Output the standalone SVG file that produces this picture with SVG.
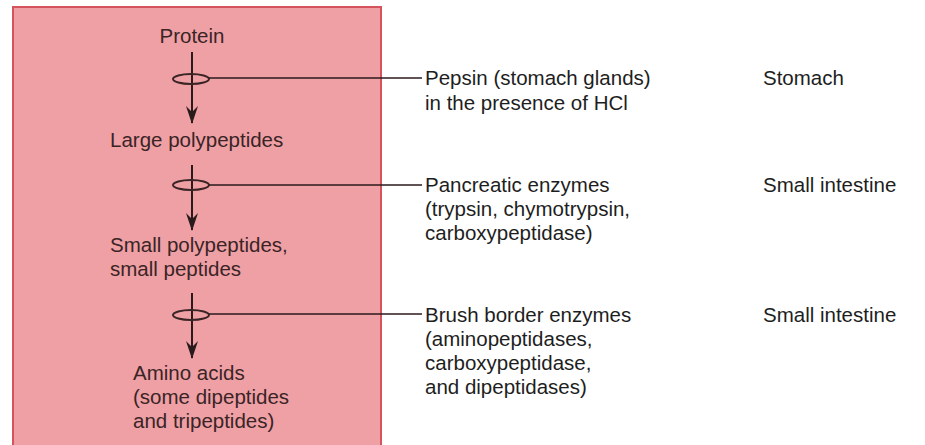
<svg xmlns="http://www.w3.org/2000/svg" width="925" height="445" viewBox="0 0 925 445">
<defs>
<marker id="ah" viewBox="0 0 18 12" refX="17" refY="6" markerWidth="18" markerHeight="12" markerUnits="userSpaceOnUse" orient="auto">
<path d="M0,0 L18,6 L0,12 L6,6 Z" fill="#2a1a1c"/>
</marker>
</defs>
<style>
text{font-family:"Liberation Sans",Arial,sans-serif;font-size:20.5px}
.in{fill:#3a2426}
.out{fill:#1e1e1e}
.arr{stroke:#2a1a1c;stroke-width:2;fill:none}
.ell{stroke:#3a2426;stroke-width:2;fill:none}
.lead{stroke:#2a1a1c;stroke-width:1.6;fill:none}
</style>
<rect width="925" height="445" fill="#ffffff"/>
<rect id="panel" x="13" y="7" width="368" height="440" fill="#efa0a5" stroke="#d4535d" stroke-width="2"/>
<g id="connectors">
<line class="arr" x1="192" y1="52" x2="192" y2="123" marker-end="url(#ah)"/>
<line class="arr" x1="192" y1="165" x2="192" y2="230" marker-end="url(#ah)"/>
<line class="arr" x1="192" y1="293" x2="192" y2="358" marker-end="url(#ah)"/>
<ellipse class="ell" cx="191" cy="79" rx="18" ry="5"/>
<ellipse class="ell" cx="191" cy="185" rx="18" ry="5"/>
<ellipse class="ell" cx="191" cy="315" rx="18" ry="5"/>
<line class="lead" x1="209" y1="78" x2="422" y2="78"/>
<line class="lead" x1="209" y1="185" x2="422" y2="185"/>
<line class="lead" x1="209" y1="314" x2="422" y2="314"/>
</g>
<g id="protein"><text class="in" x="192" y="43" text-anchor="middle">Protein</text></g>
<g id="large-polypeptides"><text class="in" x="110" y="147">Large polypeptides</text></g>
<g id="small-polypeptides"><text class="in" x="110" y="252">Small polypeptides,</text><text class="in" x="110" y="276">small peptides</text></g>
<g id="amino-acids"><text class="in" x="133" y="380">Amino acids</text><text class="in" x="133" y="404">(some dipeptides</text><text class="in" x="133" y="428">and tripeptides)</text></g>
<g id="pepsin"><text class="out" x="425" y="85">Pepsin (stomach glands)</text><text class="out" x="425" y="110">in the presence of HCl</text></g>
<g id="pancreatic"><text class="out" x="425" y="192">Pancreatic enzymes</text><text class="out" x="425" y="216">(trypsin, chymotrypsin,</text><text class="out" x="425" y="240">carboxypeptidase)</text></g>
<g id="brush-border"><text class="out" x="425" y="322">Brush border enzymes</text><text class="out" x="425" y="346">(aminopeptidases,</text><text class="out" x="425" y="370">carboxypeptidase,</text><text class="out" x="425" y="394">and dipeptidases)</text></g>
<g id="stomach"><text class="out" x="763" y="85">Stomach</text></g>
<g id="small-intestine-1"><text class="out" x="763" y="192">Small intestine</text></g>
<g id="small-intestine-2"><text class="out" x="763" y="322">Small intestine</text></g>
</svg>
